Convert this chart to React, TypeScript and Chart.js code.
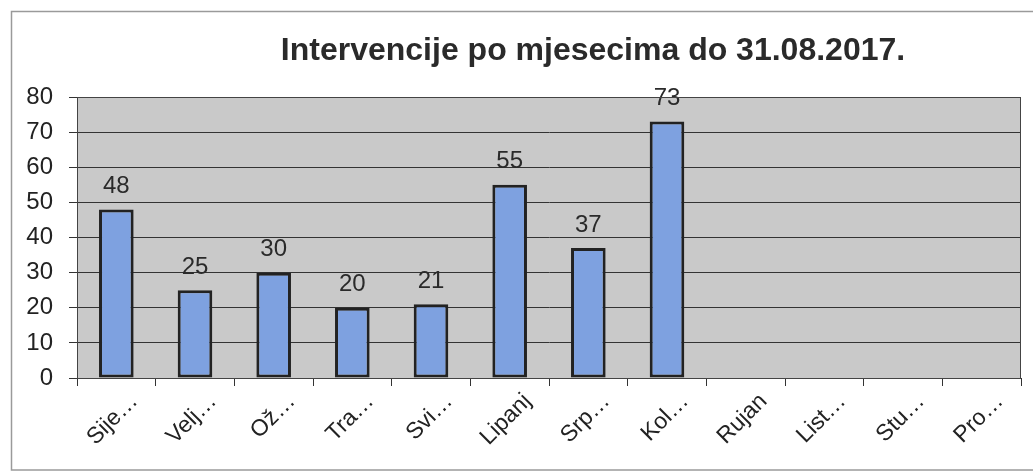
import React, { useEffect, useRef } from "react";
import { Chart, registerables } from "chart.js";

Chart.register(...registerables);

const TITLE = "Intervencije po mjesecima do 31.08.2017.";
const CATEGORIES = ["Sije…", "Velj…", "Ož…", "Tra…", "Svi…", "Lipanj", "Srp…", "Kol…", "Rujan", "List…", "Stu…", "Pro…"];
const VALUES: (number | null)[] = [48, 25, 30, 20, 21, 55, 37, 73, null, null, null, null];
const Y_MIN = 0;
const Y_MAX = 80;
const Y_STEP = 10;

const FONT = "'Liberation Sans', Arial, sans-serif";

const framePlugin = {
  id: "frame",
  beforeDraw(chart: any) {
    const { ctx, chartArea } = chart;
    ctx.save();
    ctx.fillStyle = "#ffffff";
    ctx.fillRect(0, 0, chart.width, chart.height);
    ctx.strokeStyle = "#9a9a9a";
    ctx.lineWidth = 1.5;
    ctx.beginPath();
    ctx.moveTo(chart.width + 5, 11.5);
    ctx.lineTo(11.5, 11.5);
    ctx.lineTo(11.5, 470);
    ctx.lineTo(chart.width + 5, 470);
    ctx.stroke();
    ctx.fillStyle = "#c9c9c9";
    ctx.fillRect(chartArea.left, chartArea.top, chartArea.right - chartArea.left, chartArea.bottom - chartArea.top);
    ctx.restore();
  },
  afterDraw(chart: any) {
    const { ctx, chartArea } = chart;
    ctx.save();
    ctx.strokeStyle = "#444";
    ctx.lineWidth = 1;
    ctx.strokeRect(chartArea.left + 0.5, chartArea.top + 0.5, chartArea.right - chartArea.left - 1, chartArea.bottom - chartArea.top);
    ctx.fillStyle = "#2a2a2a";
    ctx.font = `bold 32px ${FONT}`;
    ctx.textAlign = "center";
    ctx.textBaseline = "middle";
    ctx.fillText(TITLE, (chartArea.left + chartArea.right) / 2 + 44, 51);
    ctx.restore();
  },
};

const labelsPlugin = {
  id: "barLabels",
  afterDatasetsDraw(chart: any) {
    const { ctx } = chart;
    const meta = chart.getDatasetMeta(0);
    ctx.save();
    ctx.fillStyle = "#2a2a2a";
    ctx.font = `24px ${FONT}`;
    ctx.textAlign = "center";
    ctx.textBaseline = "bottom";
    meta.data.forEach((el: any, i: number) => {
      const v = VALUES[i];
      if (v === null || v === undefined) return;
      ctx.fillText(String(v), el.x, el.y - 11);
    });
    ctx.restore();
  },
};

export default function App() {
  const ref = useRef<HTMLCanvasElement | null>(null);

  useEffect(() => {
    if (!ref.current) return;
    const chart = new Chart(ref.current, {
      type: "bar",
      data: {
        labels: CATEGORIES,
        datasets: [
          {
            data: VALUES,
            backgroundColor: "#7ea1e0",
            borderColor: "#222222",
            borderWidth: 3,
            borderSkipped: false,
            barPercentage: 0.44,
            categoryPercentage: 1,
          },
        ],
      },
      options: {
        animation: false,
        responsive: true,
        maintainAspectRatio: false,
        layout: { padding: { top: 97, right: 12, left: 0, bottom: 0 } },
        plugins: {
          legend: { display: false },
          title: { display: false },
          tooltip: { enabled: false },
        },
        scales: {
          x: {
            offset: true,
            grid: {
              offset: true,
              drawOnChartArea: false,
              drawTicks: true,
              tickLength: 8,
              color: "#333",
            },
            border: { display: true, color: "#333" },
            ticks: {
              color: "#222",
              font: { family: FONT, size: 23 },
              minRotation: 45,
              maxRotation: 45,
              autoSkip: false,
              padding: 2,
              labelOffset: 18,
            },
            afterFit(scale: any) {
              scale.height = 94;
            },
          },
          y: {
            min: Y_MIN,
            max: Y_MAX,
            ticks: {
              stepSize: Y_STEP,
              color: "#222",
              font: { family: FONT, size: 24 },
              padding: 16,
            },
            grid: {
              color: "#333",
              tickLength: 8,
              drawTicks: true,
            },
            border: { display: true, color: "#333" },
            afterFit(scale: any) {
              scale.width = 77;
            },
          },
        },
      },
      plugins: [framePlugin, labelsPlugin],
    });
    return () => chart.destroy();
  }, []);

  return (
    <div style={{ position: "absolute", left: 0, top: 0, width: 1033, height: 472 }}>
      <canvas ref={ref} />
    </div>
  );
}
